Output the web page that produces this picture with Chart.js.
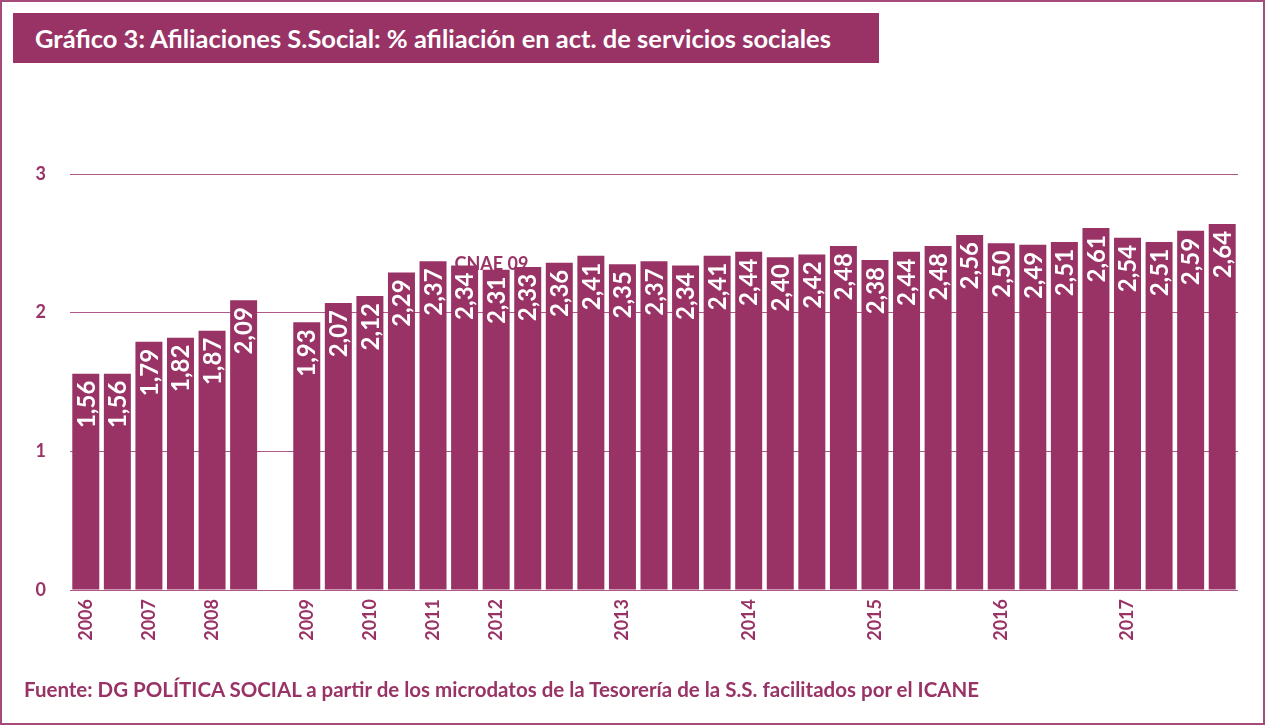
<!DOCTYPE html>
<html>
<head>
<meta charset="utf-8">
<script src="https://cdn.jsdelivr.net/npm/chart.js@4/dist/chart.umd.min.js"></script>
<style>
  body { margin: 0; background: #fff; }
  #frame { position: absolute; left: 0; top: 0; width: 1265px; height: 725px; box-sizing: border-box; border: 2px solid #a54a7b; }
  #title { position: absolute; left: 13px; top: 13px; width: 866px; height: 50px; background: #993366; color: #fff;
           font: bold 25.5px Lato, sans-serif; line-height: 50px; padding-left: 22px; box-sizing: border-box; z-index: 2; }
  #source { position: absolute; left: 24px; top: 677px; color: #993366; font: bold 20.5px Lato, sans-serif; z-index: 2; }
  #myChart { position: absolute; left: 0; top: 0; z-index: 1; }
</style>
</head>
<body>
<div id="frame"></div>
<div id="title">Gráfico 3: Afiliaciones S.Social: % afiliación en act. de servicios sociales</div>
<canvas id="myChart" width="1266" height="726"></canvas>
<div id="source">Fuente: DG POLÍTICA SOCIAL a partir de los microdatos de la Tesorería de la S.S. facilitados por el ICANE</div>
<script>
// one slot per bar, empty slot between 2008 and 2009
var labels = ["2006", "", "2007", "", "2008", "", "", "2009", "", "2010", "", "2011", "", "2012", "", "", "", "2013", "", "", "", "2014", "", "", "", "2015", "", "", "", "2016", "", "", "", "2017", "", "", ""];
var values = [1.56, 1.56, 1.79, 1.82, 1.87, 2.09, null, 1.93, 2.07, 2.12, 2.29, 2.37, 2.34, 2.31, 2.33, 2.36, 2.41, 2.35, 2.37, 2.34, 2.41, 2.44, 2.40, 2.42, 2.48, 2.38, 2.44, 2.48, 2.56, 2.50, 2.49, 2.51, 2.61, 2.54, 2.51, 2.59, 2.64];
var yTicks = [0, 1, 2, 3];
var noteText = "CNAE 09";
var noteAt = [12.85, 2.31]; // category index, value

var purple = "#993366";

var notePlugin = {
    id: 'note',
    beforeDatasetsDraw: function(chart) {
        var ctx = chart.ctx;
        var x = chart.scales.x.getPixelForValue(noteAt[0]);
        var y = chart.scales.y.getPixelForValue(noteAt[1]);
        ctx.save();
        ctx.fillStyle = purple;
        ctx.font = "bold 18px Lato, sans-serif";
        ctx.textAlign = "center";
        ctx.textBaseline = "alphabetic";
        ctx.fillText(noteText, x, y);
        ctx.restore();
    }
};

var valuePlugin = {
    id: 'values',
    afterDatasetsDraw: function(chart) {
        var ctx = chart.ctx;
        var meta = chart.getDatasetMeta(0);
        ctx.save();
        ctx.fillStyle = "#fff";
        ctx.font = "bold 24px Lato, sans-serif";
        ctx.textAlign = "right";
        ctx.textBaseline = "middle";
        for (var i = 0; i < meta.data.length; i++) {
            if (values[i] == null) continue;
            var bar = meta.data[i];
            ctx.save();
            ctx.translate(bar.x, bar.y + 7);
            ctx.rotate(-Math.PI / 2);
            ctx.fillText(values[i].toFixed(2).replace('.', ','), 0, 1);
            ctx.restore();
        }
        ctx.restore();
    }
};

var ctx = document.getElementById("myChart").getContext("2d");
var myChart = new Chart(ctx, {
    type: 'bar',
    data: {
        labels: labels,
        datasets: [{
            data: values,
            backgroundColor: purple,
            borderWidth: 0,
            categoryPercentage: 1,
            barPercentage: 0.855
        }]
    },
    options: {
        responsive: false,
        animation: false,
        layout: { padding: { left: 20, right: 28, top: 174, bottom: 76 } },
        plugins: {
            legend: { display: false },
            tooltip: { enabled: false }
        },
        scales: {
            x: {
                grid: { display: false, drawTicks: false },
                border: { display: false },
                afterFit: function(scale) { scale.height = 60; },
                ticks: {
                    autoSkip: false,
                    minRotation: 90,
                    maxRotation: 90,
                    padding: 9,
                    color: purple,
                    font: { family: "Lato, sans-serif", weight: "bold", size: 18 }
                }
            },
            y: {
                min: 0,
                max: 3,
                afterFit: function(scale) { scale.width = 50; },
                afterBuildTicks: function(scale) { scale.ticks = yTicks.map(function(v) { return { value: v }; }); },
                grid: { color: "#b0588a", lineWidth: 1, drawTicks: false },
                border: { display: false },
                ticks: {
                    padding: 24,
                    color: purple,
                    font: { family: "Lato, sans-serif", weight: "bold", size: 18 }
                }
            }
        }
    },
    plugins: [notePlugin, valuePlugin]
});
</script>
</body>
</html>
